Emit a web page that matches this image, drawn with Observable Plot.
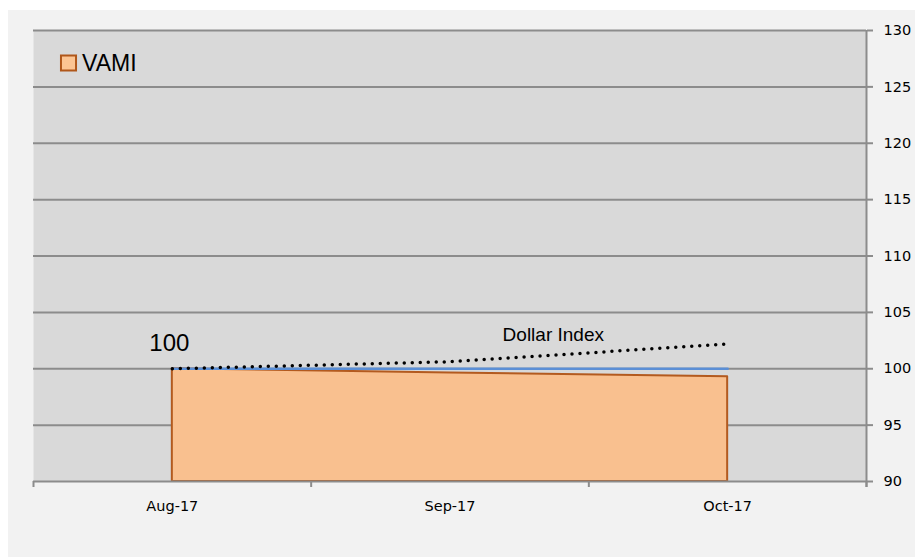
<!DOCTYPE html>
<html>
<head>
<meta charset="utf-8">
<script src="https://cdn.jsdelivr.net/npm/d3@7"></script>
<script src="https://cdn.jsdelivr.net/npm/@observablehq/plot@0.6"></script>
<style>
  html, body { margin: 0; padding: 0; background: #ffffff; }
  #wrap { padding-left: 8px; padding-top: 10px; }
  #wrap svg { background: #f2f2f2; display: block; }
</style>
</head>
<body>
<div id="wrap"></div>
<script>
// ---- data ----
const months = ["Aug-17", "Sep-17", "Oct-17"];
const vami = [100, 99.62, 99.29];
const benchmark = [100, 100, 100];
const dollarIndex = [100, 100.62, 102.2];
const yTicks = [90, 95, 100, 105, 110, 115, 120, 125, 130];
const xEdges = [-0.5, 0.5, 1.5, 2.5];

const rows = months.map((m, i) => ({i, month: m, vami: vami[i], bench: benchmark[i], dollar: dollarIndex[i]}));

const grid = "#8c8c8c";
const axisFont = "DejaVu Sans, sans-serif";
const textFont = "Liberation Sans, Arial, sans-serif";

const chart = Plot.plot({
  width: 907,
  height: 547,
  marginLeft: 25,
  marginRight: 49,
  marginTop: 20,
  marginBottom: 76,
  style: {background: "#f2f2f2", overflow: "visible"},
  x: {type: "linear", domain: [-0.5, 2.5], axis: null, label: null},
  y: {domain: [90, 130], axis: null, label: null},
  marks: [
    Plot.frame({fill: "#d9d9d9"}),
    Plot.ruleY(yTicks.filter(d => d !== 90), {stroke: grid, strokeWidth: 2}),
    Plot.areaY(rows, {x: "i", y1: 90, y2: "vami", fill: "#f9c08f", stroke: "#b35a1f", strokeWidth: 2}),
    Plot.ruleY([90], {stroke: grid, strokeWidth: 2}),
    Plot.ruleX([xEdges[xEdges.length - 1]], {y1: 130, y2: 90, insetBottom: -6, stroke: grid, strokeWidth: 2}),
    Plot.lineY(rows, {x: "i", y: "bench", stroke: "#5b8fd6", strokeWidth: 2.5}),
    Plot.lineY(rows, {x: "i", y: "dollar", stroke: "#000000", strokeWidth: 3.5, strokeDasharray: "0,8", strokeLinecap: "round"}),
    Plot.axisY({anchor: "right", label: null, ticks: yTicks, tickSize: 6, tickPadding: 11, stroke: grid, strokeWidth: 2,
      fill: "#000", fontSize: 14.5, fontFamily: axisFont, tickFormat: d => String(d)}),
    Plot.axisX({label: null, ticks: xEdges, tickSize: 6, tickFormat: () => "", stroke: grid, strokeWidth: 2}),
    Plot.axisX({label: null, ticks: [0, 1, 2], tickSize: 0, tickPadding: 19, tickFormat: i => months[i],
      fill: "#000", fontSize: 14.5, fontFamily: axisFont}),
    // annotations
    Plot.text([months[0]], {x: () => 0, y: () => vami[0], text: () => String(vami[0]), dx: -3, dy: -18,
      lineAnchor: "bottom", textAnchor: "middle", fontSize: 24, fontFamily: textFont, fill: "#000"}),
    Plot.text(["Dollar Index"], {x: () => 1.372, y: () => 102.49, text: d => d,
      lineAnchor: "bottom", textAnchor: "middle", fontSize: 19, fontFamily: textFont, fill: "#000"}),
    // legend
    Plot.dot(["VAMI"], {frameAnchor: "top-left", dx: 35, dy: 32.5, symbol: "square", r: 8.5,
      fill: "#fcc593", stroke: "#b0571a", strokeWidth: 2}),
    Plot.text(["VAMI"], {frameAnchor: "top-left", text: d => d, dx: 48.5, dy: 40, lineAnchor: "bottom",
      textAnchor: "start", fontSize: 23, fontFamily: textFont, fill: "#000"})
  ]
});
document.getElementById("wrap").appendChild(chart);
</script>
</body>
</html>
